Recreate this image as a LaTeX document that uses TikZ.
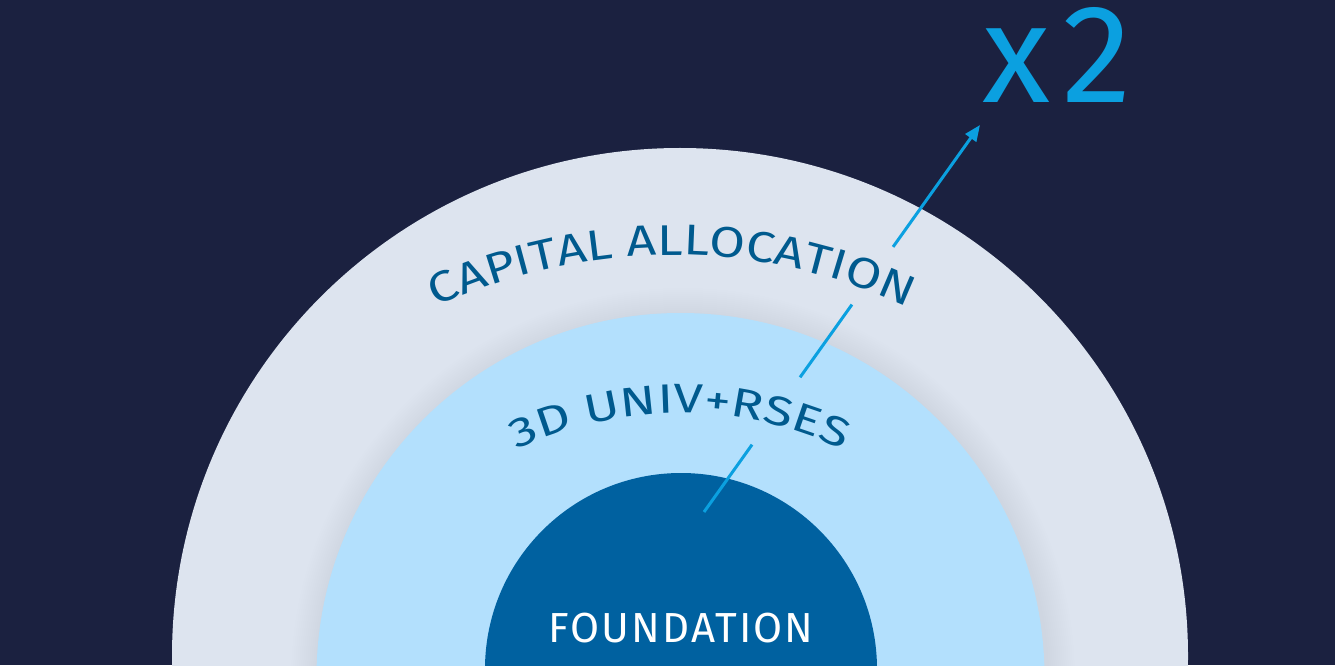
\documentclass[tikz,border=0pt]{standalone}
\usepackage{fontspec}
\setmainfont{Fira Sans}
\newfontfamily\capfont[FakeStretch=1.2]{Fira Sans}
\newfontfamily\univfont[FakeStretch=1.3]{Fira Sans}
\newfontfamily\foundfont[LetterSpace=5]{Fira Sans}
\usetikzlibrary{decorations.text,arrows.meta,calc}
\definecolor{bg}{HTML}{1B2140}
\definecolor{ring1}{HTML}{DDE4EF}
\definecolor{ring2}{HTML}{B3E0FD}
\definecolor{core}{HTML}{0061A0}
\definecolor{labelblue}{HTML}{005A8E}
\definecolor{accent}{HTML}{0BA0E0}
\tikzset{
  conn/.style={accent, line width=3pt},
  arclabel/.style={decorate, decoration={text along path, text align=center, text={#1}}}
}
\begin{document}
\begin{tikzpicture}[x=1pt,y=1pt]
\useasboundingbox (0,0) rectangle (1335,665);
\clip (0,0) rectangle (1335,665);
\fill[bg] (0,0) rectangle (1335,665);
% outer ring
\fill[ring1] (680,9) circle (508);
% soft shadow around middle disc
\foreach \i in {1,...,14} \fill[bg,opacity=0.005] (683,-15) circle ({364+2*\i});
% middle disc
\fill[ring2] (680.5,-12) circle (364);
% core disc
\fill[core] (681,-4) circle (196);
% curved labels
\path[arclabel={|\capfont\fontsize{43}{43}\selectfont\color{labelblue}|CAPITAL ALLOCATION}]
  (672,-150) ++(130:560) arc (130:50:560);
\path[arclabel={|\univfont\fontsize{41}{41}\selectfont\color{labelblue}|3D UNIV+RSES}]
  (680,-128) ++(140:380) arc (140:40:380);
\node[text=white, font=\foundfont\fontsize{42}{42}\selectfont, anchor=base, inner sep=0] (found) at (681,23) {FOUNDATION};
\node[text=accent, font=\fontsize{140}{140}\selectfont, anchor=base west, inner sep=0] (times) at (982,562) {x\kern12pt 2};
% arrow
\coordinate (a0) at (704,153);
\coordinate (tip) at (980,540);
\coordinate (a1) at ($(a0)!0.174!(tip)$);
\coordinate (a2) at ($(a0)!0.348!(tip)$);
\coordinate (a3) at ($(a0)!0.536!(tip)$);
\coordinate (a4) at ($(a0)!0.685!(tip)$);
\draw[conn] (a0) -- (a1);
\draw[conn] (a2) -- (a3);
\draw[conn, -{Triangle[length=16pt,width=13pt]}] (a4) -- (tip);
\end{tikzpicture}
\end{document}
